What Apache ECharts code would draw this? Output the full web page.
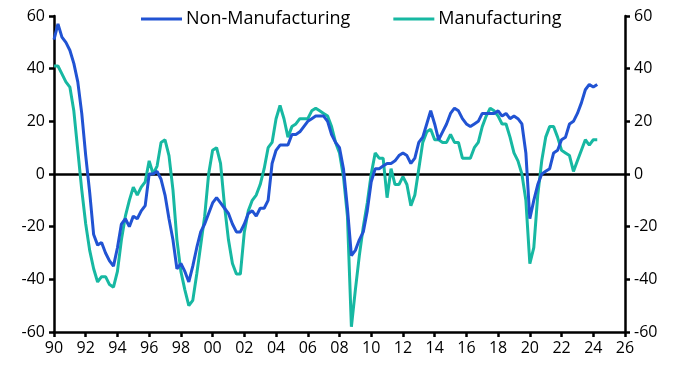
<!DOCTYPE html>
<html>
<head>
<meta charset="utf-8">
<script src="https://cdn.jsdelivr.net/npm/echarts@6/dist/echarts.min.js"></script>
<style>
  html, body { margin: 0; padding: 0; background: #fff; }
  #chart { width: 681px; height: 377px; }
</style>
</head>
<body>
<div id="chart"></div>
<script>
  // quarterly readings, 1990 Q1 to 2024 Q2
  const startYear = 1990
  const nonManufacturing = [
    51, 57, 52, 50,  47, 42, 35, 23,  7, -7, -23, -27,  -26, -30, -33, -35,
    -28, -19, -17, -20,  -16, -17, -14, -12,  0, 0, 1, -2,  -8, -17, -25, -36,
    -34, -37, -41, -35,  -28, -22, -19, -15,  -11, -9, -11, -13,  -15, -19, -22, -22,
    -19, -15, -14, -16,  -13, -13, -10, 4,  9, 11, 11, 11,  15, 15, 16, 18,
    20, 21, 22, 22,  22, 20, 15, 12,  10, 2, -13, -31,  -29, -25, -22, -14,
    -3, 2, 2, 3,  4, 4, 5, 7,  8, 7, 4, 6,  12, 14, 19, 24,
    19, 13, 16, 19,  23, 25, 24, 21,  19, 18, 19, 20,  23, 23, 23, 23,
    24, 22, 23, 21,  22, 21, 19, 8,  -17, -10, -4, 0,  1, 2, 8, 9,
    13, 14, 19, 20,  23, 27, 32, 34,  33, 34
  ]
  const manufacturing = [
    41, 41, 38, 35,  33, 24, 9, -6,  -19, -29, -36, -41,  -39, -39, -42, -43,
    -37, -25, -16, -10,  -5, -8, -5, -3,  5, 0, 3, 12,  13, 7, -6, -25,
    -37, -44, -50, -48,  -38, -27, -16, 0,  9, 10, 4, -12,  -25, -34, -38, -38,
    -22, -14, -10, -8,  -4, 2, 10, 12,  21, 26, 21, 14,  18, 19, 21, 21,
    21, 24, 25, 24,  23, 22, 18, 12,  8, -1, -16, -58,  -44, -31, -20, -11,
    0, 8, 6, 6,  -9, 2, -4, -4,  -1, -4, -12, -8,  2, 12, 16, 17,
    13, 13, 12, 12,  15, 12, 12, 6,  6, 6, 10, 12,  18, 22, 25, 24,
    22, 19, 19, 14,  8, 5, 0, -10,  -34, -28, -8, 5,  14, 18, 18, 14,
    9, 8, 7, 1,  5, 9, 13, 11,  13, 13
  ]
  const yTicks = [-60, -40, -20, 0, 20, 40, 60]

  const toPoints = vals => vals.map((v, i) => [startYear + i / 4, v])

  const axisFont = { color: '#000', fontSize: 16, fontFamily: '"Open Sans", sans-serif' }
  const blackLine = { color: '#000', width: 2.5 }

  const yAxisBase = {
    type: 'value',
    min: yTicks[0],
    max: yTicks[yTicks.length - 1],
    interval: 20,
    splitLine: { show: false },
    axisLine: { show: true, onZero: false, lineStyle: blackLine },
    axisTick: { show: true, length: 5, lineStyle: blackLine },
    axisLabel: Object.assign({ margin: 9 }, axisFont)
  }

  let chart = echarts.init(document.getElementById('chart'))
  chart.setOption({
    animation: false,
    color: ['#2153d3', '#17b8a2'],
    legend: {
      top: 5,
      left: 136,
      itemGap: 43,
      itemWidth: 41,
      itemHeight: 3,
      icon: 'rect',
      textStyle: { color: '#000', fontSize: 18, fontFamily: '"Open Sans", sans-serif', padding: [0, 0, 0, -1] },
      data: ['Non-Manufacturing', 'Manufacturing']
    },
    grid: { left: 54, right: 56, top: 16, bottom: 45 },
    xAxis: {
      type: 'value',
      min: 1990,
      max: 2026,
      interval: 2,
      splitLine: { show: false },
      axisLine: { show: true, onZero: false, lineStyle: blackLine },
      axisTick: { show: true, length: 5, lineStyle: blackLine },
      axisLabel: Object.assign({
        margin: 8,
        formatter: v => String(v).slice(2)
      }, axisFont)
    },
    yAxis: [
      Object.assign({ position: 'left' }, yAxisBase),
      Object.assign({ position: 'right' }, yAxisBase)
    ],
    series: [
      {
        name: 'Non-Manufacturing',
        type: 'line',
        data: toPoints(nonManufacturing),
        showSymbol: false,
        lineStyle: { width: 3 },
        z: 3,
        markLine: {
          silent: true,
          symbol: 'none',
          label: { show: false },
          lineStyle: { color: '#000', width: 2.5, type: 'solid' },
          data: [{ yAxis: 0 }],
          z: 1
        }
      },
      {
        name: 'Manufacturing',
        type: 'line',
        data: toPoints(manufacturing),
        showSymbol: false,
        lineStyle: { width: 3 },
        z: 2
      }
    ]
  })
</script>
</body>
</html>
